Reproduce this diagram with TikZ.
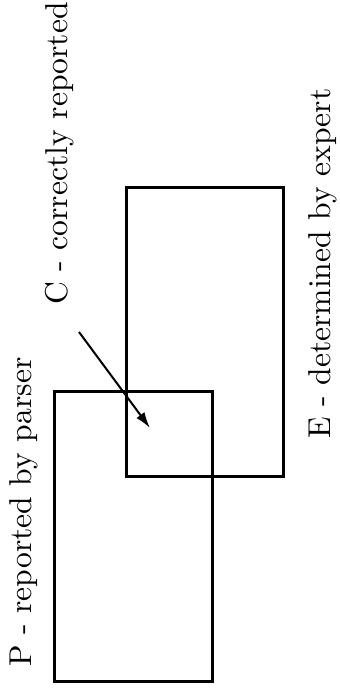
\documentclass[tikz,border=0pt]{standalone}
\usepackage{tikz}
\usetikzlibrary{arrows.meta}

\newcommand{\biglbl}[1]{\scalebox{1.58}{#1}}

\begin{document}
\begin{tikzpicture}[x=0.5pt, y=-0.5pt,
  setbox/.style={draw, line width=1.5pt, inner sep=0pt, minimum width=#1},
  lbl/.style={rotate=90, anchor=base west, inner sep=0pt, font=\fontsize{10}{12}\selectfont},
  arr/.style={-{Latex[length=8pt, width=5pt]}, line width=1pt}
]
\useasboundingbox (0,0) rectangle (339,695);
\node[setbox=79pt, minimum height=145pt] (P) at (133.5,536.5) {};
\node[setbox=78.5pt, minimum height=144.5pt] (E) at (205,332) {};
\node[lbl] (Plbl) at (31.5,667) {\biglbl{P - reported by parser}};
\node[lbl] (Clbl) at (67,305) {\biglbl{C - correctly reported}};
\node[lbl] (Elbl) at (330,439) {\biglbl{E - determined by expert}};
\coordinate (cfrom) at (79,332);
\coordinate (cto) at (150,428);
\draw[arr] (cfrom) -- (cto);
\end{tikzpicture}
\end{document}
